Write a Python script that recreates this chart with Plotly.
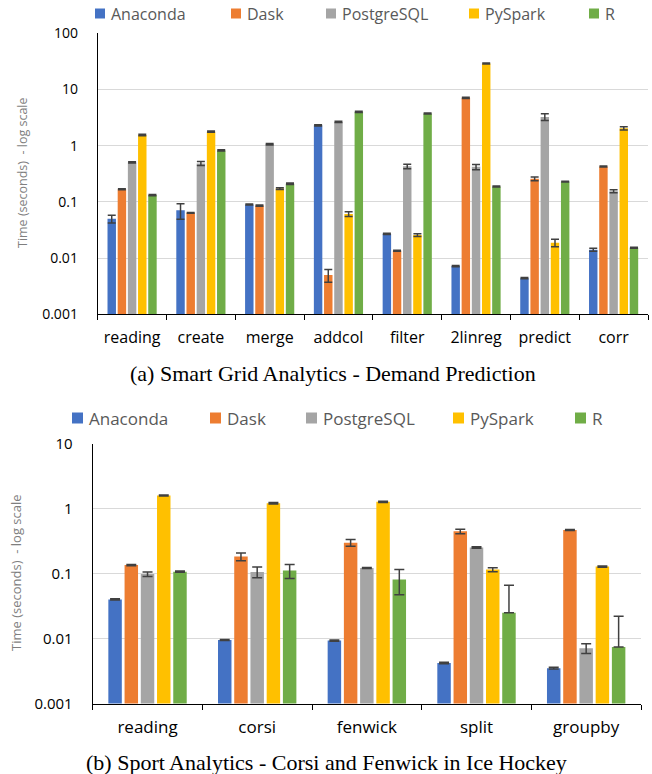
import plotly.graph_objects as go

# ---------------- data ----------------
series_names = ["Anaconda", "Dask", "PostgreSQL", "PySpark", "R"]
series_colors = ["#4472C4", "#ED7D31", "#A5A5A5", "#FFC000", "#70AD47"]

# (a) Smart Grid Analytics
categories_a = ["reading", "create", "merge", "addcol", "filter", "2linreg", "predict", "corr"]
anaconda_a = [0.050, 0.071, 0.090, 2.3, 0.027, 0.0072, 0.0044, 0.0141]
anaconda_a_err = [0.008, 0.022, 0.002, 0.05, 0.0006, 0.0002, 0.0001, 0.0008]
dask_a = [0.168, 0.064, 0.086, 0.0050, 0.0135, 7.1, 0.257, 0.427]
dask_a_err = [0.004, 0.001, 0.002, 0.0013, 0.0003, 0.15, 0.02, 0.008]
postgres_a = [0.504, 0.483, 1.06, 2.65, 0.43, 0.42, 3.25, 0.155]
postgres_a_err = [0.012, 0.04, 0.03, 0.06, 0.04, 0.045, 0.45, 0.009]
pyspark_a = [1.55, 1.78, 0.173, 0.061, 0.0257, 29.0, 0.0188, 2.04]
pyspark_a_err = [0.05, 0.04, 0.006, 0.006, 0.0015, 0.7, 0.0028, 0.13]
r_a = [0.132, 0.825, 0.21, 4.0, 3.73, 0.188, 0.23, 0.0153]
r_a_err = [0.003, 0.02, 0.006, 0.09, 0.08, 0.004, 0.004, 0.0003]

# (b) Sport Analytics
categories_b = ["reading", "corsi", "fenwick", "split", "groupby"]
anaconda_b = [0.040, 0.0095, 0.0093, 0.0042, 0.0035]
anaconda_b_err = [0.001, 0.0002, 0.0002, 0.0001, 0.0001]
dask_b = [0.135, 0.183, 0.298, 0.446, 0.468]
dask_b_err = [0.003, 0.025, 0.035, 0.035, 0.01]
postgres_b = [0.098, 0.106, 0.122, 0.252, 0.0071]
postgres_b_err = [0.008, 0.02, 0.002, 0.006, 0.0012]
pyspark_b = [1.59, 1.21, 1.27, 0.115, 0.128]
pyspark_b_err = [0.03, 0.03, 0.03, 0.008, 0.003]
r_b = [0.107, 0.111, 0.081, 0.0249, 0.0074]
r_b_err_plus = [0.002, 0.027, 0.034, 0.041, 0.0146]
r_b_err_minus = [0.002, 0.027, 0.034, 0.0, 0.0]

tick_vals_a = [0.001, 0.01, 0.1, 1, 10, 100]
tick_text_a = ["0.001", "0.01", "0.1", "1", "10", "100"]
tick_vals_b = [0.001, 0.01, 0.1, 1, 10]
tick_text_b = ["0.001", "0.01", "0.1", "1", "10"]

y_title = "Time (seconds)\u00a0 - log scale"
caption_a = "(a) Smart Grid Analytics - Demand Prediction"
caption_b = "(b) Sport Analytics - Corsi and Fenwick in Ice Hockey"

W, H = 652, 774
FONT = "Open Sans"
ERR_COLOR = "#404040"

fig = go.Figure()

vals_a = [anaconda_a, dask_a, postgres_a, pyspark_a, r_a]
errs_a = [anaconda_a_err, dask_a_err, postgres_a_err, pyspark_a_err, r_a_err]
for name, color, v, e in zip(series_names, series_colors, vals_a, errs_a):
    fig.add_trace(go.Bar(
        x=categories_a, y=v, name=name, marker=dict(color=color, line=dict(width=0)),
        error_y=dict(type="data", array=e, symmetric=True, color=ERR_COLOR, thickness=1.5, width=4),
        xaxis="x", yaxis="y", showlegend=False,
    ))

vals_b = [anaconda_b, dask_b, postgres_b, pyspark_b, r_b]
errs_b = [anaconda_b_err, dask_b_err, postgres_b_err, pyspark_b_err, None]
for name, color, v, e in zip(series_names, series_colors, vals_b, errs_b):
    if e is None:
        ey = dict(type="data", array=r_b_err_plus, arrayminus=r_b_err_minus, symmetric=False,
                  color=ERR_COLOR, thickness=1.5, width=5)
    else:
        ey = dict(type="data", array=e, symmetric=True, color=ERR_COLOR, thickness=1.5, width=5)
    fig.add_trace(go.Bar(
        x=categories_b, y=v, name=name, marker=dict(color=color, line=dict(width=0)),
        error_y=ey, xaxis="x2", yaxis="y2", showlegend=False,
    ))

def px_x(p):
    return p / W

def px_y(p):
    return 1 - p / H

axis_common = dict(showline=True, linecolor="#000000", linewidth=1, automargin=False)

fig.update_layout(
    width=W, height=H, autosize=False,
    margin=dict(l=0, r=0, t=0, b=0, pad=0, autoexpand=False),
    showlegend=False,
    paper_bgcolor="white", plot_bgcolor="white",
    barmode="group", bargap=0.26, bargroupgap=0.17,
    font=dict(family=FONT, color="#000000"),
    xaxis=dict(domain=[px_x(97.7), px_x(648)], anchor="y", type="category",
               tickson="boundaries", ticks="outside", ticklen=5, tickcolor="#000000",
               tickfont=dict(size=16, color="#000000"), ticklabelstandoff=8,
               showgrid=False, **axis_common),
    yaxis=dict(domain=[px_y(314.3), px_y(33.3)], anchor="x", type="log", range=[-3, 2],
               tickvals=tick_vals_a, ticktext=tick_text_a, ticks="",
               tickfont=dict(size=14, color="#000000"), ticklabelstandoff=16,
               showgrid=True, gridcolor="#D9D9D9", gridwidth=1, zeroline=False, **axis_common),
    xaxis2=dict(domain=[px_x(92.7), px_x(641)], anchor="y2", type="category",
                tickson="boundaries", ticks="outside", ticklen=5, tickcolor="#000000",
                tickfont=dict(size=17, color="#000000"), ticklabelstandoff=8,
                showgrid=False, **axis_common),
    yaxis2=dict(domain=[px_y(703.5), px_y(443.6)], anchor="x2", type="log", range=[-3, 1],
                tickvals=tick_vals_b, ticktext=tick_text_b, ticks="",
                tickfont=dict(size=15, color="#000000"), ticklabelstandoff=16,
                showgrid=True, gridcolor="#D9D9D9", gridwidth=1, zeroline=False, **axis_common),
)

shapes = []
annotations = []

# manual legends (Excel style: small square + name)
legend_a_sq = [95, 231, 326, 469, 589]
legend_b_sq = [72, 210, 306, 453, 575]
for (sq_list, yc, sz, fsize) in [(legend_a_sq, 13.5, 10, 16), (legend_b_sq, 418, 11, 17)]:
    for xs, name, color in zip(sq_list, series_names, series_colors):
        shapes.append(dict(type="rect", xref="paper", yref="paper",
                           x0=px_x(xs), x1=px_x(xs + sz),
                           y0=px_y(yc + sz / 2), y1=px_y(yc - sz / 2),
                           fillcolor=color, line=dict(width=0)))
        annotations.append(dict(text=name, xref="paper", yref="paper",
                                x=px_x(xs + sz + 4), y=px_y(yc), xanchor="left", yanchor="middle",
                                showarrow=False, font=dict(family=FONT, size=fsize, color="#595959")))

# y-axis titles
annotations.append(dict(text=y_title, xref="paper", yref="paper", x=px_x(22), y=px_y(173),
                        textangle=-90, showarrow=False, xanchor="center", yanchor="middle",
                        font=dict(family=FONT, size=12.5, color="#7F7F7F")))
annotations.append(dict(text=y_title, xref="paper", yref="paper", x=px_x(16), y=px_y(573),
                        textangle=-90, showarrow=False, xanchor="center", yanchor="middle",
                        font=dict(family=FONT, size=13, color="#7F7F7F")))

# captions
annotations.append(dict(text=caption_a, xref="paper", yref="paper", x=px_x(333), y=px_y(373),
                        showarrow=False, xanchor="center", yanchor="middle",
                        font=dict(family="Liberation Serif", size=22, color="#000000")))
annotations.append(dict(text=caption_b, xref="paper", yref="paper", x=px_x(326), y=px_y(762),
                        showarrow=False, xanchor="center", yanchor="middle",
                        font=dict(family="Liberation Serif", size=22, color="#000000")))

fig.update_layout(shapes=shapes, annotations=annotations)

# remove the default 8px page margin so the figure fills the window exactly
fig.write_html("out.html",
               config={"displayModeBar": False},
               post_script="document.body.style.margin='0';document.body.style.overflow='hidden';")
